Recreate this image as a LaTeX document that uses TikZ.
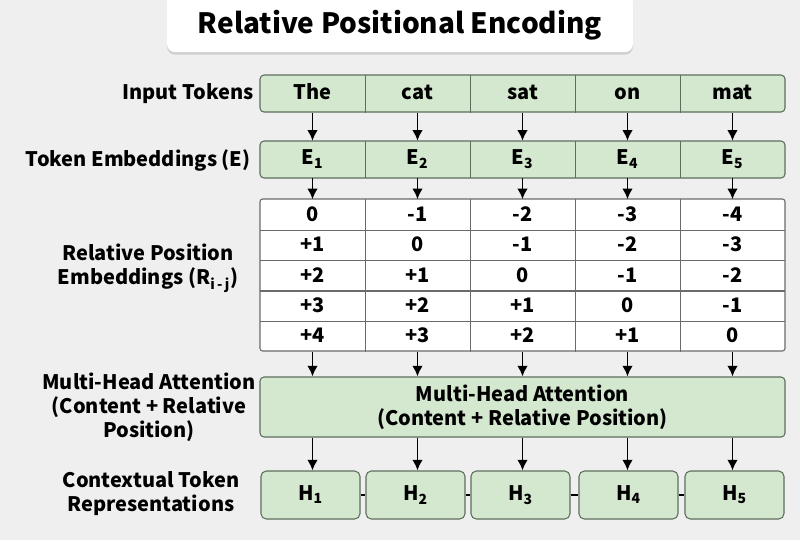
\documentclass[tikz,border=0pt]{standalone}
\usepackage{fontspec}
\setmainfont{Noto Sans CJK SC}
\usetikzlibrary{arrows.meta,shadows}
\definecolor{bggray}{HTML}{EFEFEF}
\definecolor{cellgreen}{HTML}{D4E8CF}
\definecolor{celledge}{HTML}{5E6E5E}
\definecolor{tabedge}{HTML}{6A6A6A}

\begin{document}
\begin{tikzpicture}[x=0.75pt, y=-0.75pt, >={Latex[length=8pt,width=8pt]},
		font=\fontsize{15}{18}\selectfont\bfseries]
			\useasboundingbox (0,0) rectangle (800,540);
			\fill[bggray] (0,0) rectangle (800,540);
			\tikzstyle{every node}=[align=center, inner sep=1pt]
			\tikzstyle{greenrow}=[draw=celledge, fill=cellgreen, line width=0.8pt, rounded corners=3pt, minimum width=393.75pt]
			\tikzstyle{cell}=[inner sep=0pt, minimum width=78.75pt, minimum height=27.75pt, text height=11pt, text depth=3pt]
			\tikzstyle{relcell}=[inner sep=0pt, minimum width=78.75pt, minimum height=22.8pt, text height=11pt, text depth=1pt]
			\tikzstyle{hbox}=[draw=celledge, fill=cellgreen, line width=0.8pt, rounded corners=4pt, minimum width=74.25pt, minimum height=36pt, text height=11pt, text depth=3pt]
			
			% title
			\node[fill=white, rounded corners=6pt, minimum width=349.5pt, minimum height=46.5pt,
				drop shadow={shadow xshift=0pt, shadow yshift=-2pt, fill=black!30}] (titlebox) at (400,21) {};
			\node[font=\fontsize{21}{24}\selectfont\bfseries] (title) at (400,25) {Relative Positional Encoding};
			
			% input tokens
			\node[greenrow, minimum height=27.75pt] (tokrow) at (522.5,93.5) {};
			\node[cell] (t1) at (312.5,94) {The};
			\node[cell] (t2) at (417.5,94) {cat};
			\node[cell] (t3) at (522.5,94) {sat};
			\node[cell] (t4) at (627.5,94) {on};
			\node[cell] (t5) at (732.5,94) {mat};
			
			% token embeddings
			\node[greenrow, minimum height=27.75pt] (embrow) at (522.5,159.5) {};
			\node[cell] (e1) at (312.5,159.5) {E\textsubscript{1}};
			\node[cell] (e2) at (417.5,159.5) {E\textsubscript{2}};
			\node[cell] (e3) at (522.5,159.5) {E\textsubscript{3}};
			\node[cell] (e4) at (627.5,159.5) {E\textsubscript{4}};
			\node[cell] (e5) at (732.5,159.5) {E\textsubscript{5}};
			
			% relative position table
			\node[draw=tabedge, fill=white, line width=0.8pt, rounded corners=2pt, minimum width=393.75pt, minimum height=114pt] (reltab) at (522.5,275) {};
			\foreach \r in {1,...,5}
				\foreach \c in {1,...,5} {
					\pgfmathtruncatemacro\v{\r-\c}
					\node[relcell] (r\r\c) at (207.5+105*\c, 184.3+30.4*\r) {\ifnum\v>0 +\fi\v};
				}
			
			% middle and bottom
			\node[greenrow, minimum height=45pt] (att) at (522.5,407) {Multi-Head Attention\\(Content + Relative Position)};
			\node[hbox] (h1) at (310.5,495) {H\textsubscript{1}};
			\node[hbox] (h2) at (415.5,495) {H\textsubscript{2}};
			\node[hbox] (h3) at (520.5,495) {H\textsubscript{3}};
			\node[hbox] (h4) at (628.5,495) {H\textsubscript{4}};
			\node[hbox] (h5) at (734.5,495) {H\textsubscript{5}};
			
			% side labels
			\node[anchor=east] (lbltok) at (255,94) {Input Tokens};
			\node[anchor=east] (lblemb) at (252,160) {Token Embeddings (E)};
			\node (lblrel) at (148,268) {Relative Position\\Embeddings (R\textsubscript{i\,-\,j})};
			\node (lblatt) at (149,407) {Multi-Head Attention\\(Content + Relative\\Position)};
			\node (lblctx) at (151,494) {Contextual Token\\Representations};
			
			% dividers
			\draw[celledge, line width=0.8pt] (t1.north east) -- (t1.south east);
			\draw[celledge, line width=0.8pt] (t2.north east) -- (t2.south east);
			\draw[celledge, line width=0.8pt] (t3.north east) -- (t3.south east);
			\draw[celledge, line width=0.8pt] (t4.north east) -- (t4.south east);
			\draw[celledge, line width=0.8pt] (e1.north east) -- (e1.south east);
			\draw[celledge, line width=0.8pt] (e2.north east) -- (e2.south east);
			\draw[celledge, line width=0.8pt] (e3.north east) -- (e3.south east);
			\draw[celledge, line width=0.8pt] (e4.north east) -- (e4.south east);
			\foreach \c in {1,...,4} {
				\draw[tabedge, line width=0.8pt] (r1\c.north east) -- (r5\c.south east);
				\draw[tabedge, line width=0.8pt] (r\c1.south west) -- (r\c5.south east);
			}
			
			% arrows
			\foreach \c in {1,...,5} {
				\draw[->, line width=1.4pt] (t\c) -- (e\c);
				\draw[->, line width=1.4pt] (e\c) -- (r1\c.north);
				\draw[->, line width=1.4pt] (r5\c.south) -- (r5\c.south |- att.north);
			}
			\draw[->, line width=1.4pt] (att.south -| t1) -- (h1.north -| t1);
			\draw[->, line width=1.4pt] (att.south -| t2) -- (h2.north -| t2);
			\draw[->, line width=1.4pt] (att.south -| t3) -- (h3.north -| t3);
			\draw[->, line width=1.4pt] (att.south -| t4) -- (h4.north -| t4);
			\draw[->, line width=1.4pt] (att.south -| t5) -- (h5.north -| t5);
			\draw[line width=1.4pt] (h1) -- (h2);
			\draw[line width=1.4pt] (h2) -- (h3);
			\draw[line width=1.4pt] (h3) -- (h4);
			\draw[line width=1.4pt] (h4) -- (h5);
\end{tikzpicture}
\end{document}
